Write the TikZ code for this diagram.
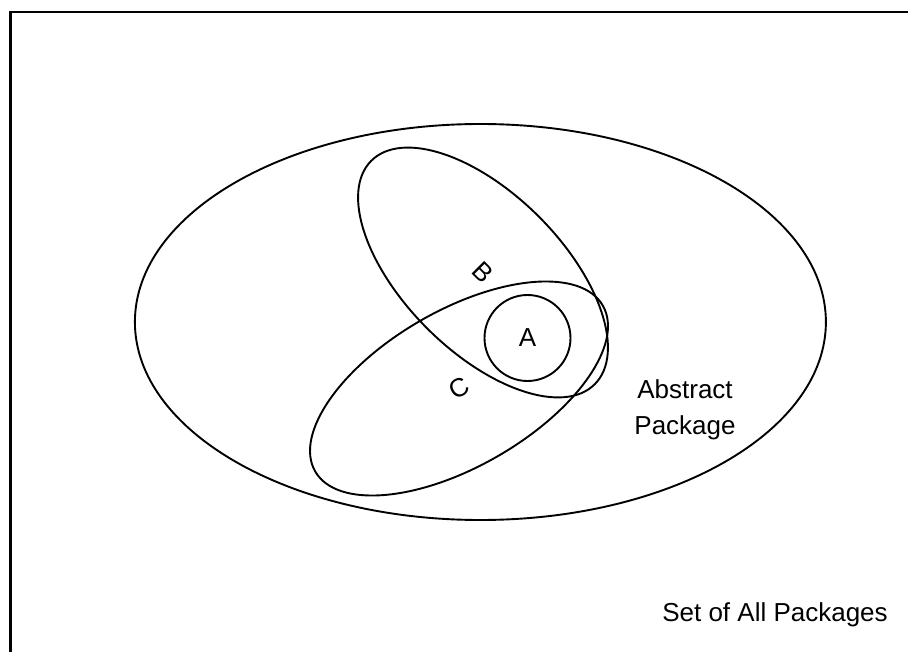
\documentclass[tikz,border=0pt]{standalone}
\usepackage{fontspec}
\setmainfont{Liberation Sans}
\usetikzlibrary{shapes.geometric}

\begin{document}
\begin{tikzpicture}[x=1pt, y=-1pt,
    set/.style={draw, ellipse, line width=1.9pt, inner sep=0pt,
                font=\fontsize{26}{36}\selectfont},
    lbl/.style={font=\fontsize{26}{36}\selectfont, align=center, inner sep=0pt},
]
\useasboundingbox (0,0) rectangle (908,652);
\draw[line width=2.4pt] (10.3,652) -- (10.3,11.8) -- (908,11.8);

\node[set, minimum width=691pt, minimum height=396pt] (abstract) at (480.4,322) {};
\node[set, minimum width=316pt, minimum height=158pt, rotate=-45] (setb) at (483,272.5) {B};
\node[set, minimum width=332pt, minimum height=156pt, rotate=30]  (setc) at (459,388.5) {C};
\node[set, circle, minimum size=86pt] (seta) at (527.5,338) {A};

\node[lbl] (abslbl) at (685,410) {Abstract\\Package};
\node[lbl] (alllbl) at (775,615) {Set of All Packages};
\end{tikzpicture}
\end{document}
